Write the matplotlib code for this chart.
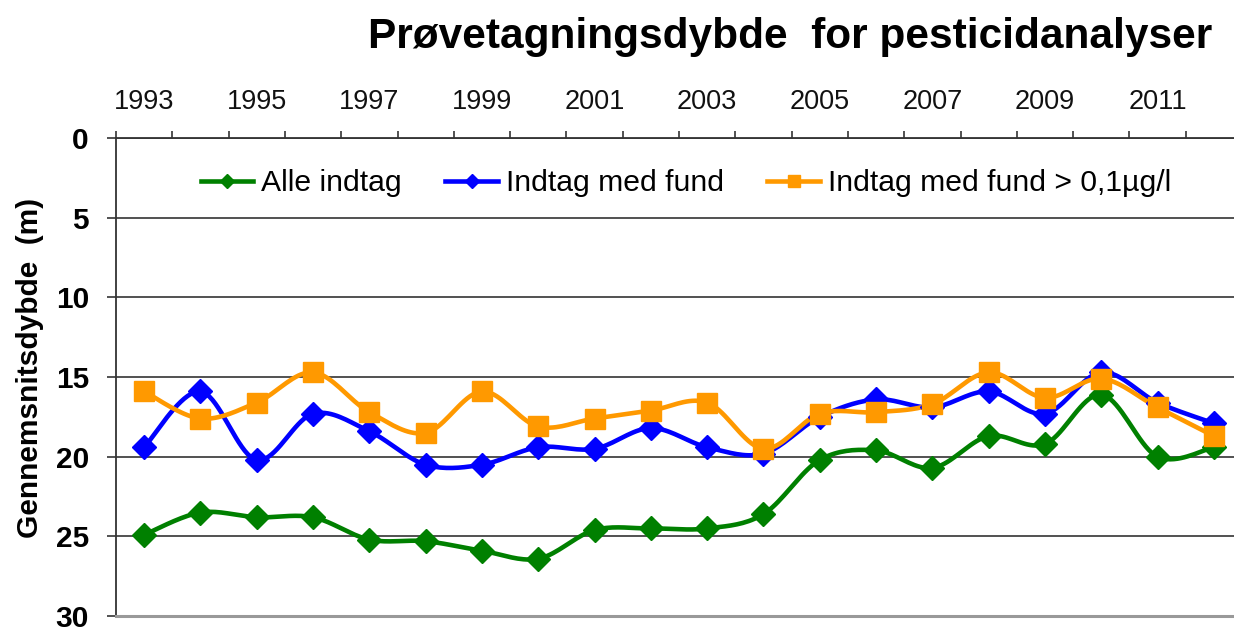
import numpy as np
import matplotlib
matplotlib.use('Agg')
import matplotlib.pyplot as plt
from matplotlib.lines import Line2D

# mean sampling depth (m) per year
years = list(range(1993, 2013))
alle = [24.9, 23.5, 23.8, 23.8, 25.2, 25.3, 25.9, 26.4, 24.6, 24.5,
        24.5, 23.6, 20.2, 19.6, 20.7, 18.7, 19.2, 16.1, 20.0, 19.4]
med_fund = [19.4, 15.9, 20.2, 17.3, 18.4, 20.5, 20.5, 19.4, 19.5, 18.2,
            19.4, 19.8, 17.5, 16.4, 16.9, 15.9, 17.3, 14.7, 16.6, 17.9]
over_01 = [15.9, 17.6, 16.6, 14.7, 17.2, 18.5, 15.9, 18.1, 17.6, 17.1,
           16.6, 19.5, 17.3, 17.2, 16.7, 14.7, 16.3, 15.1, 16.9, 18.7]

labels = ['Alle indtag', 'Indtag med fund', 'Indtag med fund > 0,1\u00b5g/l']
colors = ['#008000', '#0000FF', '#FF9900']
markers = ['D', 'D', 's']

plt.rcParams['font.family'] = ['Liberation Sans', 'DejaVu Sans']


def smooth(x, y, n=20):
    # bezier smoothing like the spreadsheet "smoothed line" option
    x = np.asarray(x, float)
    y = np.asarray(y, float)
    px = np.concatenate([[x[0]], x, [x[-1]]])
    py = np.concatenate([[y[0]], y, [y[-1]]])
    t = np.linspace(0, 1, n)[:, None]
    xs, ys = [], []
    for i in range(1, len(px) - 2):
        p0 = np.array([px[i], py[i]])
        p3 = np.array([px[i + 1], py[i + 1]])
        p1 = p0 + (p3 - np.array([px[i - 1], py[i - 1]])) / 6
        p2 = p3 - (np.array([px[i + 2], py[i + 2]]) - p0) / 6
        b = ((1 - t) ** 3) * p0 + 3 * ((1 - t) ** 2) * t * p1 + 3 * (1 - t) * t ** 2 * p2 + t ** 3 * p3
        xs.append(b[:, 0])
        ys.append(b[:, 1])
    return np.concatenate(xs), np.concatenate(ys)


fig = plt.figure(figsize=(12.34, 6.28), dpi=100)
ax = fig.add_axes([0.094, 0.019, 0.9125, 0.761])

xpos = np.arange(len(years))
handles = []
for vals, lab, c, m in zip([alle, med_fund, over_01], labels, colors, markers):
    sx, sy = smooth(xpos, vals)
    ax.plot(sx, sy, color=c, lw=3.3, solid_capstyle='round', zorder=3)
    ms = 12.5 if m == 'D' else 14
    ax.plot(xpos, vals, linestyle='none', marker=m, ms=ms, color=c, mec=c, zorder=4)
    handles.append(Line2D([], [], color=c, lw=3.3, marker=m, ms=ms * 0.6, mec=c, label=lab))

ax.set_ylim(30, 0)
ax.set_xlim(-0.5, len(years) - 0.5)
ax.set_yticks(range(0, 31, 5))
ax.yaxis.grid(True, color='#222222', lw=1.1)
ax.set_axisbelow(True)

ax.xaxis.tick_top()
ax.set_xticks(np.arange(-0.5, len(years), 1))
ax.set_xticklabels([])
ax.set_xticks(xpos[::2], minor=True)
ax.set_xticklabels([str(y) for y in years[::2]], minor=True, fontsize=19.5)
ax.tick_params(axis='x', which='major', direction='out', length=5, width=1.2, color='#333333')
ax.tick_params(axis='x', which='minor', length=0, pad=17, colors='#111111')
ax.tick_params(axis='y', direction='out', length=6.5, width=1.2, pad=13, color='#333333')
for t in ax.get_yticklabels():
    t.set_fontsize(21.5)
    t.set_fontweight('bold')

for s in ['top', 'left']:
    ax.spines[s].set_color('#333333')
    ax.spines[s].set_linewidth(1.3)
ax.spines['bottom'].set_color('#999999')
ax.spines['bottom'].set_linewidth(2.2)
ax.spines['right'].set_visible(False)

ax.legend(handles=handles, loc='center', bbox_to_anchor=(0.506, 0.906), ncol=3,
          frameon=False, fontsize=21.7, handlelength=1.75, handletextpad=0.25,
          columnspacing=1.45)

fig.text(30 / 1234, 1 - 368 / 628, 'Gennemsnitsdybde  (m)', rotation=90,
         ha='center', va='center', fontsize=21.5, fontweight='bold')
fig.text(1212 / 1234, 1 - 37 / 628, 'Pr\u00f8vetagningsdybde  for pesticidanalyser',
         ha='right', va='center', fontsize=30.5, fontweight='bold')

fig.savefig('out.png', dpi=100)
